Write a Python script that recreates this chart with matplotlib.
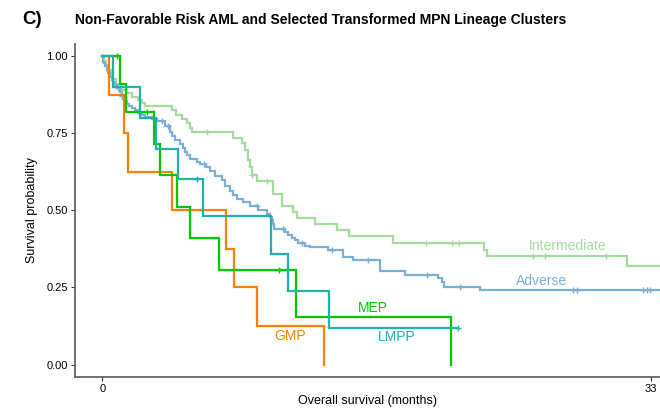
import matplotlib
matplotlib.use("Agg")
import matplotlib.pyplot as plt

plt.rcParams['font.family'] = ['Liberation Sans', 'DejaVu Sans']

# Kaplan-Meier curves (time in months, survival probability)
int_t = [0, 0.1, 0.2, 0.35, 0.5, 0.65, 0.8, 0.95, 1.2, 1.46, 1.8, 2.15, 2.4, 2.56,
         4.16, 4.45, 4.77, 5.1, 5.25, 5.4, 7.87, 8.4, 8.57, 8.75, 8.87, 8.98, 9.28,
         10.28, 10.78, 11.48, 11.68, 12.78, 14.12, 14.85, 17.5, 22.97, 23.17, 31.54, 33.55]
int_s = [1.0, 0.985, 0.97, 0.955, 0.94, 0.925, 0.91, 0.90, 0.89, 0.879, 0.868, 0.857, 0.848, 0.838,
         0.825, 0.81, 0.795, 0.782, 0.768, 0.754, 0.733, 0.717, 0.695, 0.662, 0.641, 0.614, 0.594,
         0.554, 0.515, 0.494, 0.476, 0.456, 0.435, 0.416, 0.395, 0.372, 0.351, 0.321, 0.321]
int_cens_t = [6.27, 8.98, 9.88, 19.45, 21.06, 21.47, 25.92, 26.63, 30.29]

adv_t = [0, 0.05, 0.09, 0.15, 0.25, 0.33, 0.45, 0.55, 0.65, 0.75, 0.87, 1.05, 1.16, 1.23,
         1.35, 1.46, 1.59, 1.76, 1.96, 2.15, 2.38, 2.56, 2.96, 3.26, 3.76, 4.06, 4.18, 4.36,
         4.66, 4.86, 4.96, 5.07, 5.26, 5.67, 5.87, 6.23, 6.47, 6.77, 7.17, 7.37, 7.67, 7.85,
         8.07, 8.47, 8.87, 9.37, 9.88, 10.08, 10.23, 10.28, 10.32, 10.98, 11.18, 11.40, 11.58,
         11.76, 12.18, 12.48, 13.57, 14.49, 15.09, 16.70, 18.20, 20.20, 20.41, 20.55, 22.71, 33.55]
adv_s = [1.0, 0.982, 0.977, 0.968, 0.955, 0.945, 0.932, 0.922, 0.916, 0.906, 0.896, 0.883, 0.870, 0.860,
         0.854, 0.844, 0.838, 0.831, 0.825, 0.815, 0.808, 0.802, 0.795, 0.789, 0.773, 0.753, 0.740, 0.727,
         0.716, 0.701, 0.688, 0.679, 0.666, 0.656, 0.649, 0.640, 0.627, 0.610, 0.597, 0.578, 0.562, 0.549,
         0.538, 0.527, 0.515, 0.500, 0.489, 0.477, 0.468, 0.455, 0.441, 0.429, 0.419, 0.409, 0.403,
         0.393, 0.386, 0.380, 0.370, 0.348, 0.338, 0.304, 0.292, 0.281, 0.267, 0.253, 0.242, 0.242]
adv_cens_t = [0.95, 1.2, 3.56, 3.96, 6.11, 9.28, 10.88, 11.99, 13.79, 15.99, 19.51, 21.51,
              28.33, 28.53, 32.54, 32.74, 32.94]

gmp_t = [0, 0.39, 1.31, 1.55, 4.16, 7.41, 7.93, 9.28, 13.33]
gmp_s = [1.0, 0.875, 0.75, 0.625, 0.5, 0.375, 0.25, 0.125, 0.0]
gmp_cens_t = []

mep_t = [0, 1.05, 1.39, 3.12, 3.46, 4.46, 5.26, 7.01, 11.62, 20.97]
mep_s = [1.0, 0.909, 0.818, 0.716, 0.614, 0.511, 0.409, 0.307, 0.153, 0.0]
mep_cens_t = [0.85, 2.66, 10.62]

lmpp_t = [0, 0.65, 2.26, 3.2, 4.56, 6.03, 10.14, 11.14, 13.65, 21.4]
lmpp_s = [1.0, 0.9, 0.8, 0.7, 0.6, 0.48, 0.36, 0.24, 0.12, 0.12]
lmpp_cens_t = [5.67, 21.4]

curves = [
    ("Intermediate", int_t, int_s, int_cens_t, "#a6dba0", (28.0, 0.386)),
    ("Adverse", adv_t, adv_s, adv_cens_t, "#7bafd4", (26.4, 0.27)),
    ("GMP", gmp_t, gmp_s, gmp_cens_t, "#ff8000", (11.3, 0.094)),
    ("MEP", mep_t, mep_s, mep_cens_t, "#00c800", (16.3, 0.185)),
    ("LMPP", lmpp_t, lmpp_s, lmpp_cens_t, "#20b2aa", (17.7, 0.088)),
]


def level_at(ts, ss, x):
    val = ss[0]
    for ti, si in zip(ts, ss):
        if ti <= x:
            val = si
    return val


fig = plt.figure(figsize=(6.6, 4.08), dpi=100)
ax = fig.add_axes([0.1136, 0.076, 0.8864, 0.817])

for name, t, s, cens, col, lab in curves:
    ax.step(t, s, where='post', color=col, lw=1.6, solid_joinstyle='miter')
    cy = [level_at(t, s, c) for c in cens]
    ax.plot(cens, cy, '+', color=col, ms=5, mew=1.0, ls='none')
    ax.text(lab[0], lab[1], name, color=col, fontsize=10, ha='center', va='center')

ax.set_xlim(-1.65, 33.55)
ax.set_ylim(-0.04, 1.04)
ax.set_xticks([0, 33])
ax.set_yticks([0, 0.25, 0.5, 0.75, 1.0])
ax.set_yticklabels(["0.00", "0.25", "0.50", "0.75", "1.00"])
ax.tick_params(labelsize=8, length=3, width=0.8, color="#333333", pad=2)
for side in ['top', 'right']:
    ax.spines[side].set_visible(False)
for side in ['left', 'bottom']:
    ax.spines[side].set_color("#666666")
    ax.spines[side].set_linewidth(1.3)

ax.set_xlabel("Overall survival (months)", fontsize=9, labelpad=1)
ax.set_ylabel("Survival probability", fontsize=9, labelpad=6)

fig.text(0.033, 0.953, "C)", fontsize=13.5, fontweight='bold', ha='left', va='center')
fig.text(0.1136, 0.950, "Non-Favorable Risk AML and Selected Transformed MPN Lineage Clusters",
         fontsize=10, fontweight='bold', ha='left', va='center')

fig.savefig("out.png", dpi=100)
